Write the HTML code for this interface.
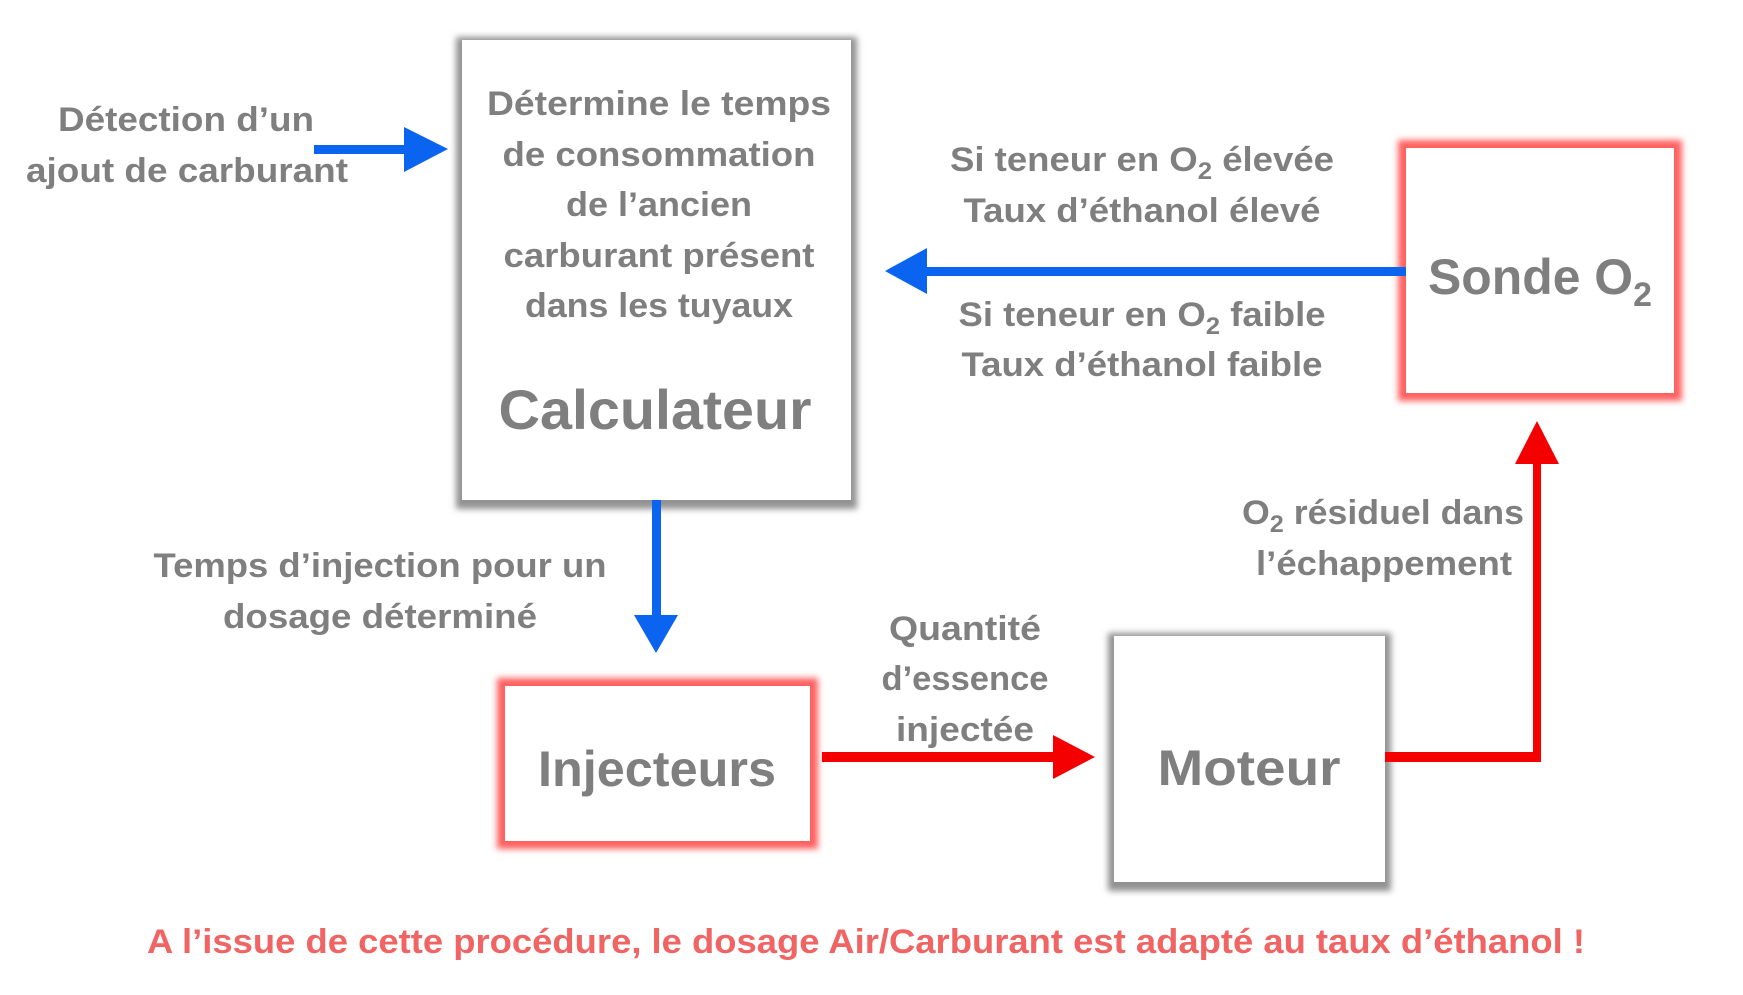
<!DOCTYPE html>
<html><head><meta charset="utf-8"><style>
html,body{margin:0;padding:0;background:#fff;}
body{width:1743px;height:995px;position:relative;overflow:hidden;}
.box{position:absolute;background:#fff;}
.gray{box-shadow:0 3px 6px 6px rgba(110,110,110,0.75);}
.red{box-shadow:0 0 6px 8px rgba(255,80,80,0.9);}
svg{position:absolute;left:0;top:0;}
text{font-family:"Liberation Sans",sans-serif;font-weight:bold;fill:#7f7f7f;}
</style></head><body>
<div class="box gray" style="left:462px;top:40px;width:389px;height:460px"></div>
<div class="box red" style="left:1406px;top:148px;width:268px;height:245px"></div>
<div class="box red" style="left:505px;top:686px;width:305px;height:155px"></div>
<div class="box gray" style="left:1114px;top:636px;width:271px;height:246px"></div>
<svg width="1743" height="995" viewBox="0 0 1743 995">
<!-- blue arrows -->
<rect x="314" y="145" width="92" height="9" fill="#0a64f0"/>
<polygon points="404,127 448,149 404,172" fill="#0a64f0"/>
<rect x="925" y="267" width="481" height="9" fill="#0a64f0"/>
<polygon points="927,248 885,271 927,294" fill="#0a64f0"/>
<rect x="652" y="500" width="9" height="120" fill="#0a64f0"/>
<polygon points="634,615 656,653 678,615" fill="#0a64f0"/>
<!-- red arrows -->
<rect x="822" y="752" width="233" height="10" fill="#f50000"/>
<polygon points="1053,735 1095,757 1053,779" fill="#f50000"/>
<rect x="1385" y="752" width="155" height="10" fill="#f50000"/>
<rect x="1533" y="462" width="8" height="300" fill="#f50000"/>
<polygon points="1515,464 1537,421 1559,464" fill="#f50000"/>
<!-- texts -->
<g font-size="34" text-anchor="middle" transform="translate(-1,-1)">
<text x="187" y="132" textLength="256" lengthAdjust="spacingAndGlyphs">Détection d’un</text>
<text x="188" y="183" textLength="322" lengthAdjust="spacingAndGlyphs">ajout de carburant</text>
<text x="660" y="116" textLength="344" lengthAdjust="spacingAndGlyphs">Détermine le temps</text>
<text x="660" y="167" textLength="313" lengthAdjust="spacingAndGlyphs">de consommation</text>
<text x="660" y="217" textLength="186" lengthAdjust="spacingAndGlyphs">de l’ancien</text>
<text x="660" y="268" textLength="311" lengthAdjust="spacingAndGlyphs">carburant présent</text>
<text x="660" y="318" textLength="268" lengthAdjust="spacingAndGlyphs">dans les tuyaux</text>
<text x="1143" y="172" textLength="384" lengthAdjust="spacingAndGlyphs">Si teneur en O<tspan font-size="24" dy="8">2</tspan><tspan dy="-8"> élevée</tspan></text>
<text x="1143" y="223" textLength="357" lengthAdjust="spacingAndGlyphs">Taux d’éthanol élevé</text>
<text x="1143" y="327" textLength="367" lengthAdjust="spacingAndGlyphs">Si teneur en O<tspan font-size="24" dy="8">2</tspan><tspan dy="-8"> faible</tspan></text>
<text x="1143" y="377" textLength="361" lengthAdjust="spacingAndGlyphs">Taux d’éthanol faible</text>
<text x="1384" y="525" textLength="282" lengthAdjust="spacingAndGlyphs">O<tspan font-size="24" dy="8">2</tspan><tspan dy="-8"> résiduel dans</tspan></text>
<text x="1385" y="576" textLength="256" lengthAdjust="spacingAndGlyphs">l’échappement</text>
<text x="381" y="578" textLength="453" lengthAdjust="spacingAndGlyphs">Temps d’injection pour un</text>
<text x="381" y="629" textLength="314" lengthAdjust="spacingAndGlyphs">dosage déterminé</text>
<text x="966" y="641" textLength="152" lengthAdjust="spacingAndGlyphs">Quantité</text>
<text x="966" y="691" textLength="167" lengthAdjust="spacingAndGlyphs">d’essence</text>
<text x="966" y="742" textLength="138" lengthAdjust="spacingAndGlyphs">injectée</text>
</g>
<text x="866" y="953" font-size="34" text-anchor="middle" textLength="1438" lengthAdjust="spacingAndGlyphs" style="fill:#f06464">A l’issue de cette procédure, le dosage Air/Carburant est adapté au taux d’éthanol !</text>
<g font-size="56" text-anchor="middle">
<text x="655" y="429" textLength="313" lengthAdjust="spacingAndGlyphs">Calculateur</text>
</g>
<g font-size="50" text-anchor="middle">
<text x="1540" y="294" textLength="224" lengthAdjust="spacingAndGlyphs">Sonde O<tspan font-size="34" dy="12">2</tspan></text>
<text x="657" y="786" textLength="238" lengthAdjust="spacingAndGlyphs">Injecteurs</text>
<text x="1249" y="785" textLength="183" lengthAdjust="spacingAndGlyphs">Moteur</text>
</g>
</svg>
</body></html>
